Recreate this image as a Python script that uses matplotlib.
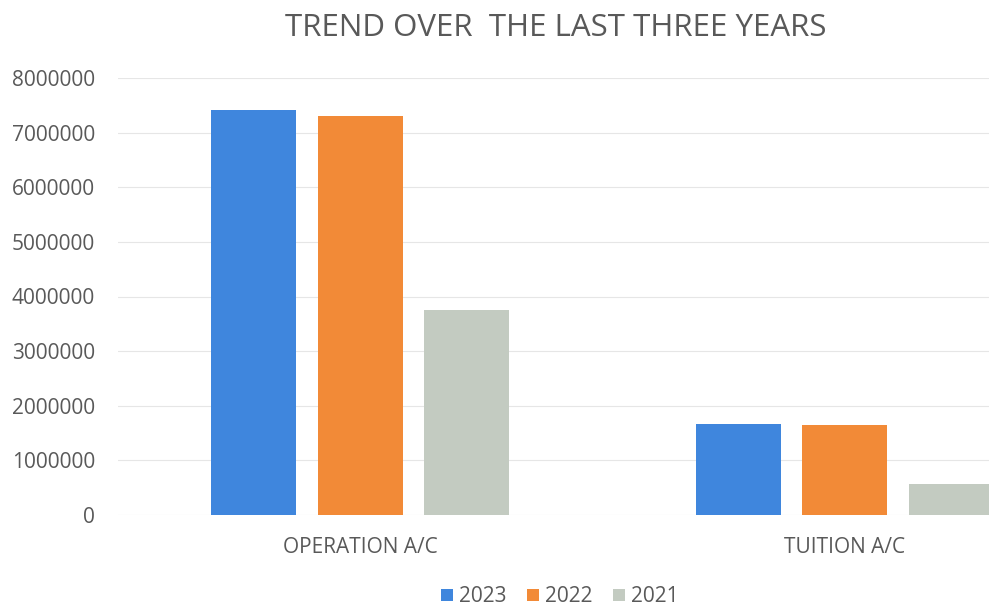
import matplotlib.pyplot as plt
import numpy as np

categories = ["OPERATION A/C", "TUITION A/C"]
years = ["2023", "2022", "2021"]
values_2023 = [7420000, 1670000]
values_2022 = [7310000, 1650000]
values_2021 = [3750000, 570000]
colors = ["#3F86DD", "#F28A37", "#C3CBC1"]

plt.rcParams['font.family'] = ['Open Sans', 'DejaVu Sans']

fig = plt.figure(figsize=(9.89, 6.07), dpi=100)
# axes run off the right edge, like the cropped scan
ax = fig.add_axes([118 / 989, 92 / 607, 969 / 989, 437 / 607])

x = np.arange(len(categories))
w = 0.175
step = 0.22
series = [values_2023, values_2022, values_2021]
for i, (vals, yr) in enumerate(zip(series, years)):
    ax.bar(x + (i - 1) * step, vals, w, color=colors[i], label=yr, zorder=2)

ax.set_xlim(-0.5, 1.5)
ax.set_ylim(0, 8000000)
ax.set_yticks(range(0, 8000001, 1000000))
ax.set_yticklabels([str(v) for v in range(0, 8000001, 1000000)])
ax.set_xticks(x)
ax.set_xticklabels(categories)
ax.tick_params(axis='both', length=0, labelsize=15, colors='#595959')
ax.tick_params(axis='y', pad=16.5)
ax.tick_params(axis='x', pad=16)
ax.grid(axis='y', color='#E6E6E6', linewidth=0.8, zorder=0)
for s in ax.spines.values():
    s.set_visible(False)

fig.text(556 / 989, 1 - 28 / 607, "TREND OVER  THE LAST THREE YEARS",
         ha='center', va='center', fontsize=22.5, color='#595959')

fig.legend(loc='center', bbox_to_anchor=(560 / 989, 1 - 597 / 607), ncol=3,
           frameon=False, fontsize=15, handlelength=0.55, handleheight=0.55,
           handletextpad=0.3, columnspacing=1.0, labelcolor='#595959')

fig.savefig("out.png", dpi=100)
